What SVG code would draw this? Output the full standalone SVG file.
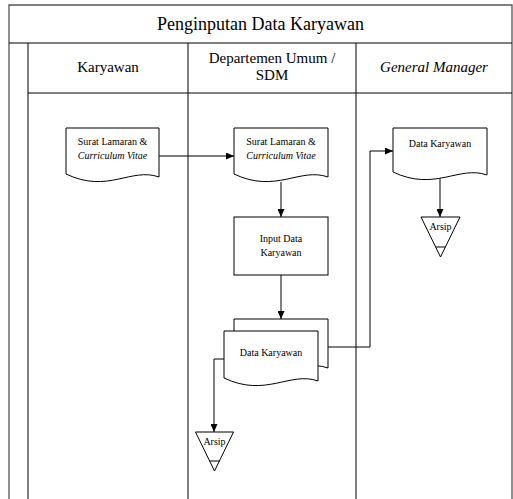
<svg xmlns="http://www.w3.org/2000/svg" width="513" height="499" viewBox="0 0 513 499">
<style>
.frame{fill:none;stroke:#000;stroke-width:1}
.outer{fill:none;stroke:#555;stroke-width:1.3}
.shape{fill:#fff;stroke:#000;stroke-width:1}
.conn{fill:none;stroke:#000;stroke-width:1}
text{fill:#000;text-anchor:middle}
</style>
<defs>
<marker id="arr" markerWidth="8" markerHeight="7" refX="8" refY="3.5" orient="auto" markerUnits="userSpaceOnUse">
<path d="M0,0 L8,3.5 L0,7 Z" fill="#000"/>
</marker>
</defs>
<rect width="513" height="499" fill="#fff"/>
<g id="pool" font-family="Liberation Serif, Times New Roman, serif">
<path class="outer" d="M9,499 V5 H512 V499"/>
<path class="frame" d="M9,43 H512"/>
<path class="frame" d="M28,43 V499"/>
<path class="frame" d="M28,93 H512"/>
<path class="frame" d="M188,43 V499"/>
<path class="frame" d="M356,43 V499"/>
<text x="260.5" y="30" font-size="18">Penginputan Data Karyawan</text>
<text x="108" y="72" font-size="15">Karyawan</text>
<text x="272" y="63" font-size="15">Departemen Umum /</text>
<text x="272" y="80" font-size="15">SDM</text>
<text x="434" y="72" font-size="15" font-style="italic">General Manager</text>
</g>
<g id="connectors">
<path class="conn" d="M159,156 H234" marker-end="url(#arr)"/>
<path class="conn" d="M281,182 V217" marker-end="url(#arr)"/>
<path class="conn" d="M281,275 V319" marker-end="url(#arr)"/>
<path class="conn" d="M328,347 H370 V151 H393" marker-end="url(#arr)"/>
<path class="conn" d="M440,178 V217" marker-end="url(#arr)"/>
<path class="conn" d="M224,359 H214 V432" marker-end="url(#arr)"/>
</g>
<g id="doc1" font-family="Liberation Serif, Times New Roman, serif" font-size="10">
<path class="shape" d="M66,128 H159 V177 C131,167 108,194 66,174 Z"/>
<text x="112.5" y="145">Surat Lamaran &amp;</text>
<text x="112.5" y="159" font-style="italic">Curriculum Vitae</text>
</g>
<g id="doc2" font-family="Liberation Serif, Times New Roman, serif" font-size="10">
<path class="shape" d="M234,128 H328 V177 C300,167 276,194 234,174 Z"/>
<text x="281" y="145">Surat Lamaran &amp;</text>
<text x="281" y="159" font-style="italic">Curriculum Vitae</text>
</g>
<g id="input" font-family="Liberation Serif, Times New Roman, serif" font-size="10">
<rect class="shape" x="234" y="217" width="94" height="58"/>
<text x="281" y="242">Input Data</text>
<text x="281" y="256">Karyawan</text>
</g>
<g id="multidoc" font-family="Liberation Serif, Times New Roman, serif" font-size="10">
<path class="shape" d="M234,319 H328 V368 C300,358 276,385 234,365 Z"/>
<path class="shape" d="M224,331 H318 V381 C290,371 266,398 224,378 Z"/>
<text x="271" y="356">Data Karyawan</text>
</g>
<g id="doc3" font-family="Liberation Serif, Times New Roman, serif" font-size="10">
<path class="shape" d="M393,128 H487 V175 C459,165 435,192 393,172 Z"/>
<text x="440" y="147">Data Karyawan</text>
</g>
<g id="arsip1" font-family="Liberation Serif, Times New Roman, serif" font-size="10">
<path class="shape" d="M421,217 H460 L440.5,257 Z"/>
<path class="conn" d="M435.6,247 H445.4"/>
<text x="440.5" y="230">Arsip</text>
</g>
<g id="arsip2" font-family="Liberation Serif, Times New Roman, serif" font-size="10">
<path class="shape" d="M195.5,432 H233.5 L214.5,471 Z"/>
<path class="conn" d="M209.6,461 H219.4"/>
<text x="214.5" y="445">Arsip</text>
</g>
</svg>
